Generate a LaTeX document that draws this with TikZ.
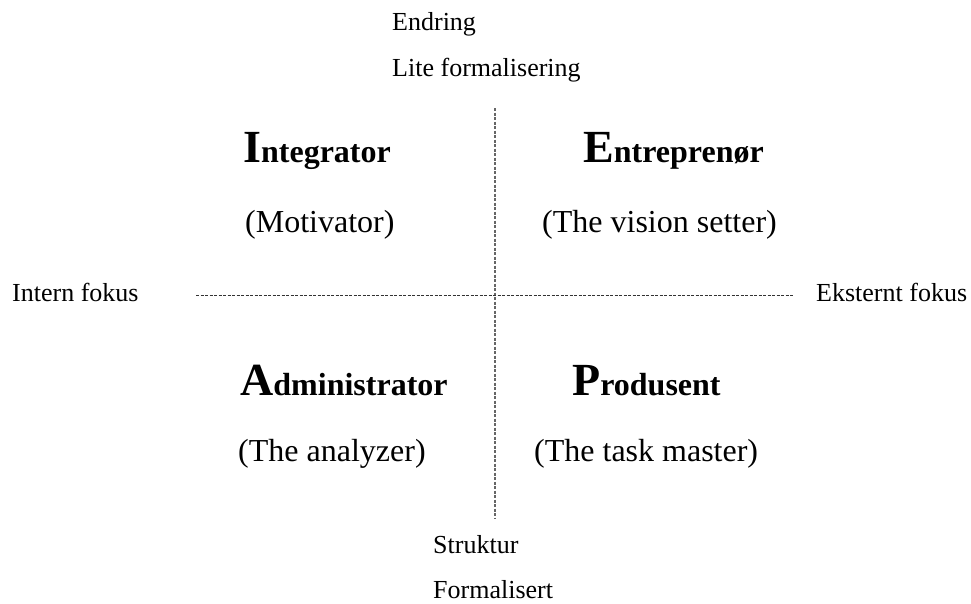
\documentclass[tikz,border=0pt]{standalone}
\usepackage{fontspec}
\setmainfont{Liberation Serif}
\begin{document}
\begin{tikzpicture}[x=1pt,y=-1pt,
  axislabel/.style={anchor=base west,inner sep=0pt,font=\fontsize{26}{30}\selectfont},
  rolename/.style={anchor=base west,inner sep=0pt,font=\fontsize{32}{36}\selectfont\bfseries},
  roledesc/.style={anchor=base west,inner sep=0pt,font=\fontsize{32}{36}\selectfont},
  axisline/.style={dash pattern=on 3pt off 1.5pt}]
\newcommand{\bigini}[1]{{\fontsize{46}{50}\selectfont #1}}
\useasboundingbox (0,0) rectangle (971,603);

% axes
\coordinate (vtop) at (495,108);
\coordinate (vbot) at (495,518);
\coordinate (hleft) at (196,295);
\coordinate (hright) at (793,295);
\draw[axisline,black!60,line width=1.2pt] (vtop) -- (vbot);
\draw[axisline,black!80,line width=1pt] (hleft) -- (hright);

% axis labels
\node[axislabel] (endring) at (392,30) {Endring};
\node[axislabel] (lite) at (392,76) {Lite formalisering};
\node[axislabel] (struktur) at (433,553) {Struktur};
\node[axislabel] (formal) at (433,598) {Formalisert};
\node[axislabel] (intern) at (12,301) {Intern fokus};
\node[axislabel] (ekstern) at (816,301) {Eksternt fokus};

% quadrants
\node[rolename] (integrator) at (243,162) {\bigini{I}ntegrator};
\node[roledesc] (motivator) at (245,232) {(Motivator)};
\node[rolename] (entrepreneur) at (583,162) {\bigini{E}ntreprenør};
\node[roledesc] (vision) at (542,232) {(The vision setter)};
\node[rolename] (admin) at (240,395) {\bigini{A}dministrator};
\node[roledesc] (analyzer) at (238,461) {(The analyzer)};
\node[rolename] (produsent) at (572,395) {\bigini{P}rodusent};
\node[roledesc] (taskmaster) at (534,461) {(The task master)};
\end{tikzpicture}
\end{document}
